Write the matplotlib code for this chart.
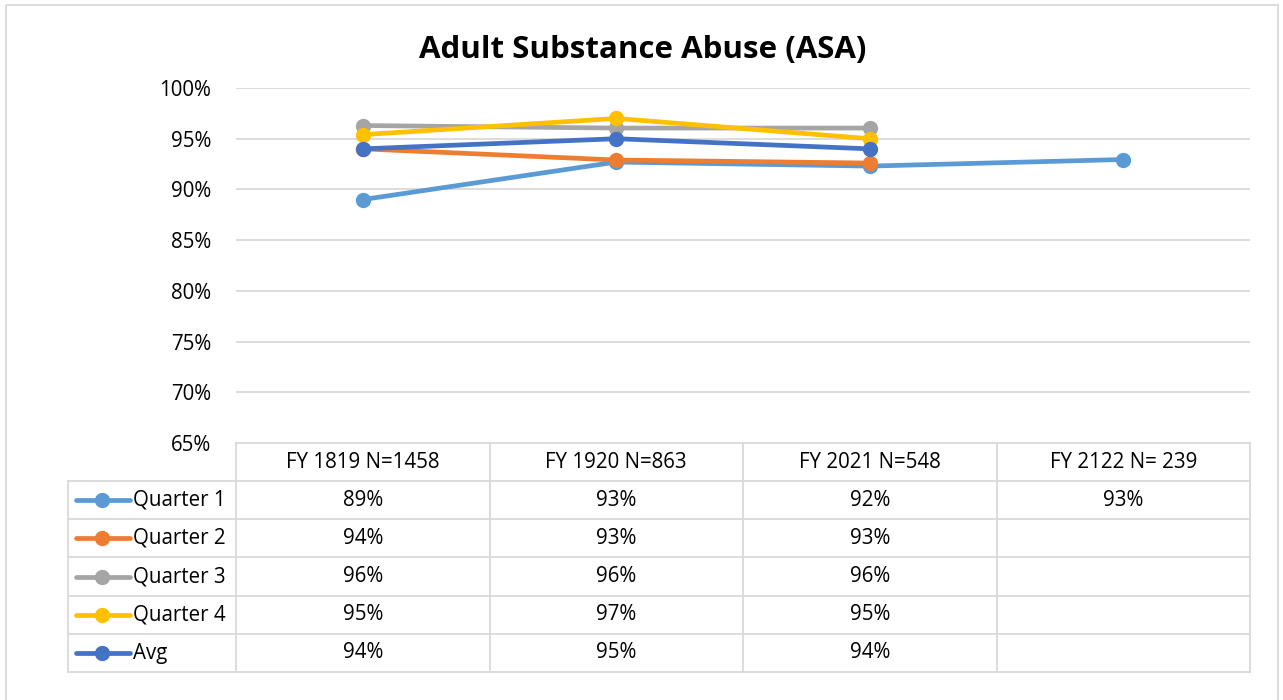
import numpy as np
import matplotlib
matplotlib.use("Agg")
import matplotlib.pyplot as plt

plt.rcParams['font.family'] = ['Open Sans', 'DejaVu Sans']

years = ["FY 1819 N=1458", "FY 1920 N=863", "FY 2021 N=548", "FY 2122 N= 239"]
series = ["Quarter 1", "Quarter 2", "Quarter 3", "Quarter 4", "Avg"]
q1 = [89.0, 92.7, 92.3, 92.95]
q2 = [94.0, 92.9, 92.6, None]
q3 = [96.3, 96.05, 96.05, None]
q4 = [95.4, 97.0, 95.0, None]
avg = [94.0, 95.0, 94.0, None]
colors = ["#5B9BD5", "#ED7D31", "#A5A5A5", "#FFC000", "#4472C4"]
values = [q1, q2, q3, q4, avg]

W, H = 1283, 700
fig = plt.figure(figsize=(W / 100, H / 100), dpi=100)
fs = 14.8

# frame of whole chart
bg = fig.add_axes([0, 0, 1, 1])
bg.set_xlim(0, W)
bg.set_ylim(H, 0)
bg.axis("off")
bg.add_patch(plt.Rectangle((6, 5), 1272, 700, fill=False, ec="#D9D9D9", lw=1.3))

# plot area
left, right, top, bottom = 236, 1250, 88, 443
ax = fig.add_axes([left / W, 1 - bottom / H, (right - left) / W, (bottom - top) / H])
x = np.arange(len(years))
for name, vals, c in zip(series, values, colors):
    xs = [i for i, v in zip(x, vals) if v is not None]
    ys = [v for v in vals if v is not None]
    ax.plot(xs, ys, color=c, lw=3.4, marker="o", ms=10, solid_capstyle="round", label=name)
ax.set_xlim(-0.5, len(years) - 0.5)
ax.set_ylim(65, 100)
ax.set_yticks(np.arange(65, 101, 5))
ax.set_yticklabels([f"{t}%" for t in range(65, 101, 5)], fontsize=fs)
ax.set_xticks([])
ax.grid(axis="y", color="#D9D9D9", lw=1.3)
ax.set_axisbelow(True)
for s in ax.spines.values():
    s.set_visible(False)
ax.tick_params(axis="y", length=0, pad=18)

fig.text(643 / W, 1 - 50 / H, "Adult Substance Abuse (ASA)", ha="center", va="center",
         fontsize=22.5, fontweight="bold")

# data table
gc = "#D9D9D9"
colw = (right - left) / len(years)
row_y = [443, 481, 519, 557, 596, 634, 672]
legend_left = 68
for j, yr in enumerate(years):
    cx = left + colw * (j + 0.5)
    bg.text(cx, (row_y[0] + row_y[1]) / 2, yr, ha="center", va="center", fontsize=fs)
    for i, vals in enumerate(values):
        v = vals[j]
        if v is not None:
            bg.text(cx, (row_y[i + 1] + row_y[i + 2]) / 2, f"{round(v):.0f}%",
                    ha="center", va="center", fontsize=fs)
# grid lines of table
bg.plot([left, right], [row_y[0], row_y[0]], color=gc, lw=1.3)
for yy in row_y[1:]:
    bg.plot([legend_left, right], [yy, yy], color=gc, lw=1.3)
for j in range(len(years) + 1):
    xx = left + colw * j
    bg.plot([xx, xx], [row_y[0], row_y[-1]], color=gc, lw=1.3)
bg.plot([legend_left, legend_left], [row_y[1], row_y[-1]], color=gc, lw=1.3)
for i, (name, c) in enumerate(zip(series, colors)):
    yy = (row_y[i + 1] + row_y[i + 2]) / 2
    bg.plot([76, 130], [yy, yy], color=c, lw=3.4, solid_capstyle="round")
    bg.plot([102], [yy], color=c, marker="o", ms=10)
    bg.text(133, yy, name, ha="left", va="center", fontsize=fs)

fig.savefig("out.png", dpi=100)
